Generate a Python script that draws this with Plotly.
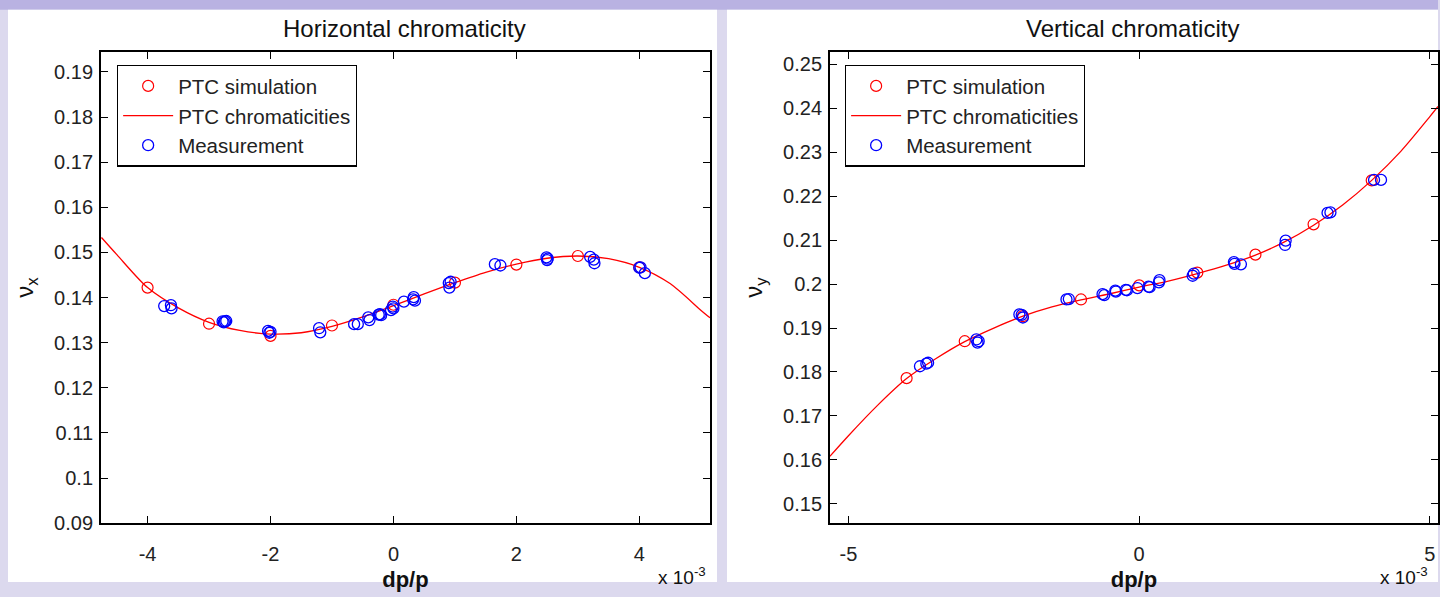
import plotly.graph_objects as go

# ---------------- data (dp/p in units of 1e-3) ----------------
# Horizontal chromaticity
h_sim_x = [-4, -3, -2, -1, 0, 1, 2, 3, 4]
h_sim_y = [0.1422, 0.1342, 0.1315, 0.1338, 0.1384, 0.1433, 0.1473, 0.1492, 0.1467]

h_fit_x = [-4.75, -4.5, -4.0, -3.5, -3.0, -2.5, -2.0, -1.5, -1.0, -0.5, 0.0, 0.5,
           1.0, 1.5, 2.0, 2.5, 3.0, 3.5, 4.0, 4.5, 5.0, 5.15]
h_fit_y = [0.1533, 0.1495, 0.1422, 0.1377, 0.1345, 0.1327, 0.1319, 0.1322, 0.1336,
           0.1357, 0.1382, 0.1408, 0.1433, 0.1456, 0.1474, 0.1487, 0.1492, 0.1486,
           0.1467, 0.1431, 0.1372, 0.1355]

h_meas_x = [-3.73, -3.62, -3.61, -2.78, -2.74, -2.72, -2.76, -2.04, -2.02, -2.00,
            -1.21, -1.19, -0.64, -0.58, -0.41, -0.39, -0.24, -0.20, -0.22, -0.04,
            0.00, -0.01, 0.17, 0.33, 0.35, 0.32, 0.90, 0.93, 0.91, 1.65, 1.74,
            2.49, 2.51, 2.50, 3.20, 3.26, 3.27, 4.00, 4.02, 4.09]
h_meas_y = [0.1381, 0.1383, 0.1376, 0.1347, 0.1347, 0.1348, 0.1345, 0.1326, 0.1322, 0.1324,
            0.1332, 0.1323, 0.1341, 0.1341, 0.1356, 0.1350, 0.1362, 0.1361, 0.1363, 0.1372,
            0.1376, 0.1380, 0.1391, 0.1401, 0.1393, 0.1396, 0.1432, 0.1435, 0.1422, 0.1474, 0.1471,
            0.1489, 0.1486, 0.1483, 0.1490, 0.1484, 0.1476, 0.1466, 0.1467, 0.1454]

# Vertical chromaticity
v_sim_x = [-4, -3, -2, -1, 0, 1, 2, 3, 4]
v_sim_y = [0.1786, 0.1870, 0.1927, 0.1965, 0.1997, 0.2026, 0.2067, 0.2136, 0.2236]

v_fit_x = [-5.32, -5.0, -4.5, -4.0, -3.5, -3.0, -2.5, -2.0, -1.5, -1.0, -0.5, 0.0,
           0.5, 1.0, 1.5, 2.0, 2.5, 3.0, 3.5, 4.0, 4.5, 5.0, 5.14]
v_fit_y = [0.1608, 0.1655, 0.1724, 0.1785, 0.1830, 0.1869, 0.1900, 0.1927, 0.1948,
           0.1964, 0.1978, 0.1993, 0.2007, 0.2024, 0.2043, 0.2066, 0.2096, 0.2134,
           0.2180, 0.2236, 0.2302, 0.2381, 0.2404]

v_meas_x = [-3.77, -3.66, -3.63, -2.80, -2.76, -2.78, -2.06, -2.02, -2.00, -1.25, -1.21,
            -0.63, -0.60, -0.40, -0.41, -0.23, -0.21, -0.03, 0.16, 0.18, 0.34, 0.35,
            0.92, 0.94, 1.63, 1.64, 1.75, 2.52, 2.51, 3.24, 3.29, 4.04, 4.16]
v_meas_y = [0.1813, 0.1819, 0.1821, 0.1874, 0.1870, 0.1867, 0.1931, 0.1930, 0.1924, 0.1965, 0.1966,
            0.1977, 0.1975, 0.1983, 0.1985, 0.1987, 0.1986, 0.1991, 0.1994, 0.1993, 0.2004, 0.2009,
            0.2019, 0.2024, 0.2050, 0.2046, 0.2045, 0.2099, 0.2089, 0.2162, 0.2163, 0.2237, 0.2237]

h_xticks = [-4, -2, 0, 2, 4]
v_xticks = [-5, 0, 5]
h_yticks = [0.09, 0.10, 0.11, 0.12, 0.13, 0.14, 0.15, 0.16, 0.17, 0.18, 0.19]
h_yticklabels = ["0.09", "0.1", "0.11", "0.12", "0.13", "0.14", "0.15", "0.16", "0.17", "0.18", "0.19"]
v_yticks = [0.15, 0.16, 0.17, 0.18, 0.19, 0.20, 0.21, 0.22, 0.23, 0.24, 0.25]
v_yticklabels = ["0.15", "0.16", "0.17", "0.18", "0.19", "0.2", "0.21", "0.22", "0.23", "0.24", "0.25"]

names = ["PTC simulation", "PTC chromaticities", "Measurement"]

# ---------------- figure ----------------
W, H = 1440, 597
FONT = "Liberation Sans, Arial, sans-serif"
RED = "#ff0000"
BLUE = "#0000ff"

fig = go.Figure()

def add_panel(sim_x, sim_y, fit_x, fit_y, meas_x, meas_y, xa, ya, legend, grp):
    fig.add_trace(go.Scatter(
        x=sim_x, y=sim_y, mode="markers", name=names[0],
        marker=dict(symbol="circle-open", size=11, color=RED, line=dict(width=1.2, color=RED)),
        xaxis=xa, yaxis=ya, legend=legend, legendgroup=grp + "a"))
    fig.add_trace(go.Scatter(
        x=fit_x, y=fit_y, mode="lines", name=names[1],
        line=dict(color=RED, width=1.3, shape="spline", smoothing=0.8),
        xaxis=xa, yaxis=ya, legend=legend, legendgroup=grp + "b"))
    fig.add_trace(go.Scatter(
        x=meas_x, y=meas_y, mode="markers", name=names[2],
        marker=dict(symbol="circle-open", size=11, color=BLUE, line=dict(width=1.3, color=BLUE)),
        xaxis=xa, yaxis=ya, legend=legend, legendgroup=grp + "c"))

add_panel(h_sim_x, h_sim_y, h_fit_x, h_fit_y, h_meas_x, h_meas_y, "x", "y", "legend", "h")
add_panel(v_sim_x, v_sim_y, v_fit_x, v_fit_y, v_meas_x, v_meas_y, "x2", "y2", "legend2", "v")

axis_common = dict(
    showline=True, linecolor="black", linewidth=1.6, mirror="ticks",
    ticks="inside", ticklen=7, tickwidth=1.4, tickcolor="black",
    showgrid=False, zeroline=False,
    tickfont=dict(family=FONT, size=20, color="#222222"),
)

def px_x(p):
    return p / W

def px_y(p):
    return 1 - p / H

y_dom = [px_y(533), px_y(53)]

legend_common = dict(xanchor="left", yanchor="top",
                     bgcolor="white", bordercolor="black", borderwidth=1.3,
                     font=dict(family=FONT, size=20.5, color="#222222"),
                     traceorder="grouped", tracegroupgap=0, itemwidth=50)

fig.update_layout(
    width=W, height=H,
    margin=dict(l=0, r=0, t=0, b=0),
    paper_bgcolor="#dcd9ee",
    plot_bgcolor="white",
    font=dict(family=FONT, color="#111111"),
    xaxis=dict(axis_common, domain=[px_x(101), px_x(711)], range=[-4.76, 5.15],
               tickvals=h_xticks, ticktext=[str(v) for v in h_xticks], anchor="y",
               ticklabelstandoff=12,
               title=dict(text="<b>dp/p</b>", font=dict(family=FONT, size=22, color="#111111"), standoff=8)),
    yaxis=dict(axis_common, domain=y_dom, range=[0.09, 0.1944],
               tickvals=h_yticks, ticktext=h_yticklabels, anchor="x",
               ticklabelstandoff=2,
               title=dict(text="ν<sub>x</sub>", font=dict(family=FONT, size=24, color="#111111"), standoff=14)),
    xaxis2=dict(axis_common, domain=[px_x(831), 1.0], range=[-5.32, 5.14],
                tickvals=v_xticks, ticktext=[str(v) for v in v_xticks], anchor="y2",
                ticklabelstandoff=12,
                title=dict(text="<b>dp/p</b>", font=dict(family=FONT, size=22, color="#111111"), standoff=8)),
    yaxis2=dict(axis_common, domain=y_dom, range=[0.1456, 0.2528],
                tickvals=v_yticks, ticktext=v_yticklabels, anchor="x2",
                ticklabelstandoff=2,
                title=dict(text="ν<sub>y</sub>", font=dict(family=FONT, size=24, color="#111111"), standoff=14)),
    legend=dict(legend_common, x=px_x(117), y=px_y(66)),
    legend2=dict(legend_common, x=px_x(846), y=px_y(66)),
    showlegend=True,
)

# background panels
fig.add_shape(type="rect", xref="paper", yref="paper", x0=0, x1=1, y0=px_y(10), y1=1,
              fillcolor="#b9b2e2", line=dict(width=0), layer="below")
fig.add_shape(type="rect", xref="paper", yref="paper", x0=px_x(8), x1=px_x(718),
              y0=px_y(593), y1=px_y(10), fillcolor="white", line=dict(width=0), layer="below")
fig.add_shape(type="rect", xref="paper", yref="paper", x0=px_x(728), x1=1,
              y0=px_y(593), y1=px_y(10), fillcolor="white", line=dict(width=0), layer="below")

# titles
fig.add_annotation(x=px_x(405), y=px_y(29), xref="paper", yref="paper", showarrow=False,
                   xanchor="center", yanchor="middle",
                   text="Horizontal chromaticity", font=dict(family=FONT, size=24, color="#111111"))
fig.add_annotation(x=px_x(1134), y=px_y(29), xref="paper", yref="paper", showarrow=False,
                   xanchor="center", yanchor="middle",
                   text="Vertical chromaticity", font=dict(family=FONT, size=24, color="#111111"))

# exponent labels
fig.add_annotation(x=px_x(709), y=px_y(587), xref="paper", yref="paper", showarrow=False,
                   xanchor="right", yanchor="middle",
                   text="x 10<sup>-3</sup>", font=dict(family=FONT, size=19, color="#111111"))
fig.add_annotation(x=px_x(1432), y=px_y(587), xref="paper", yref="paper", showarrow=False,
                   xanchor="right", yanchor="middle",
                   text="x 10<sup>-3</sup>", font=dict(family=FONT, size=19, color="#111111"))

fig.write_html("out.html")
